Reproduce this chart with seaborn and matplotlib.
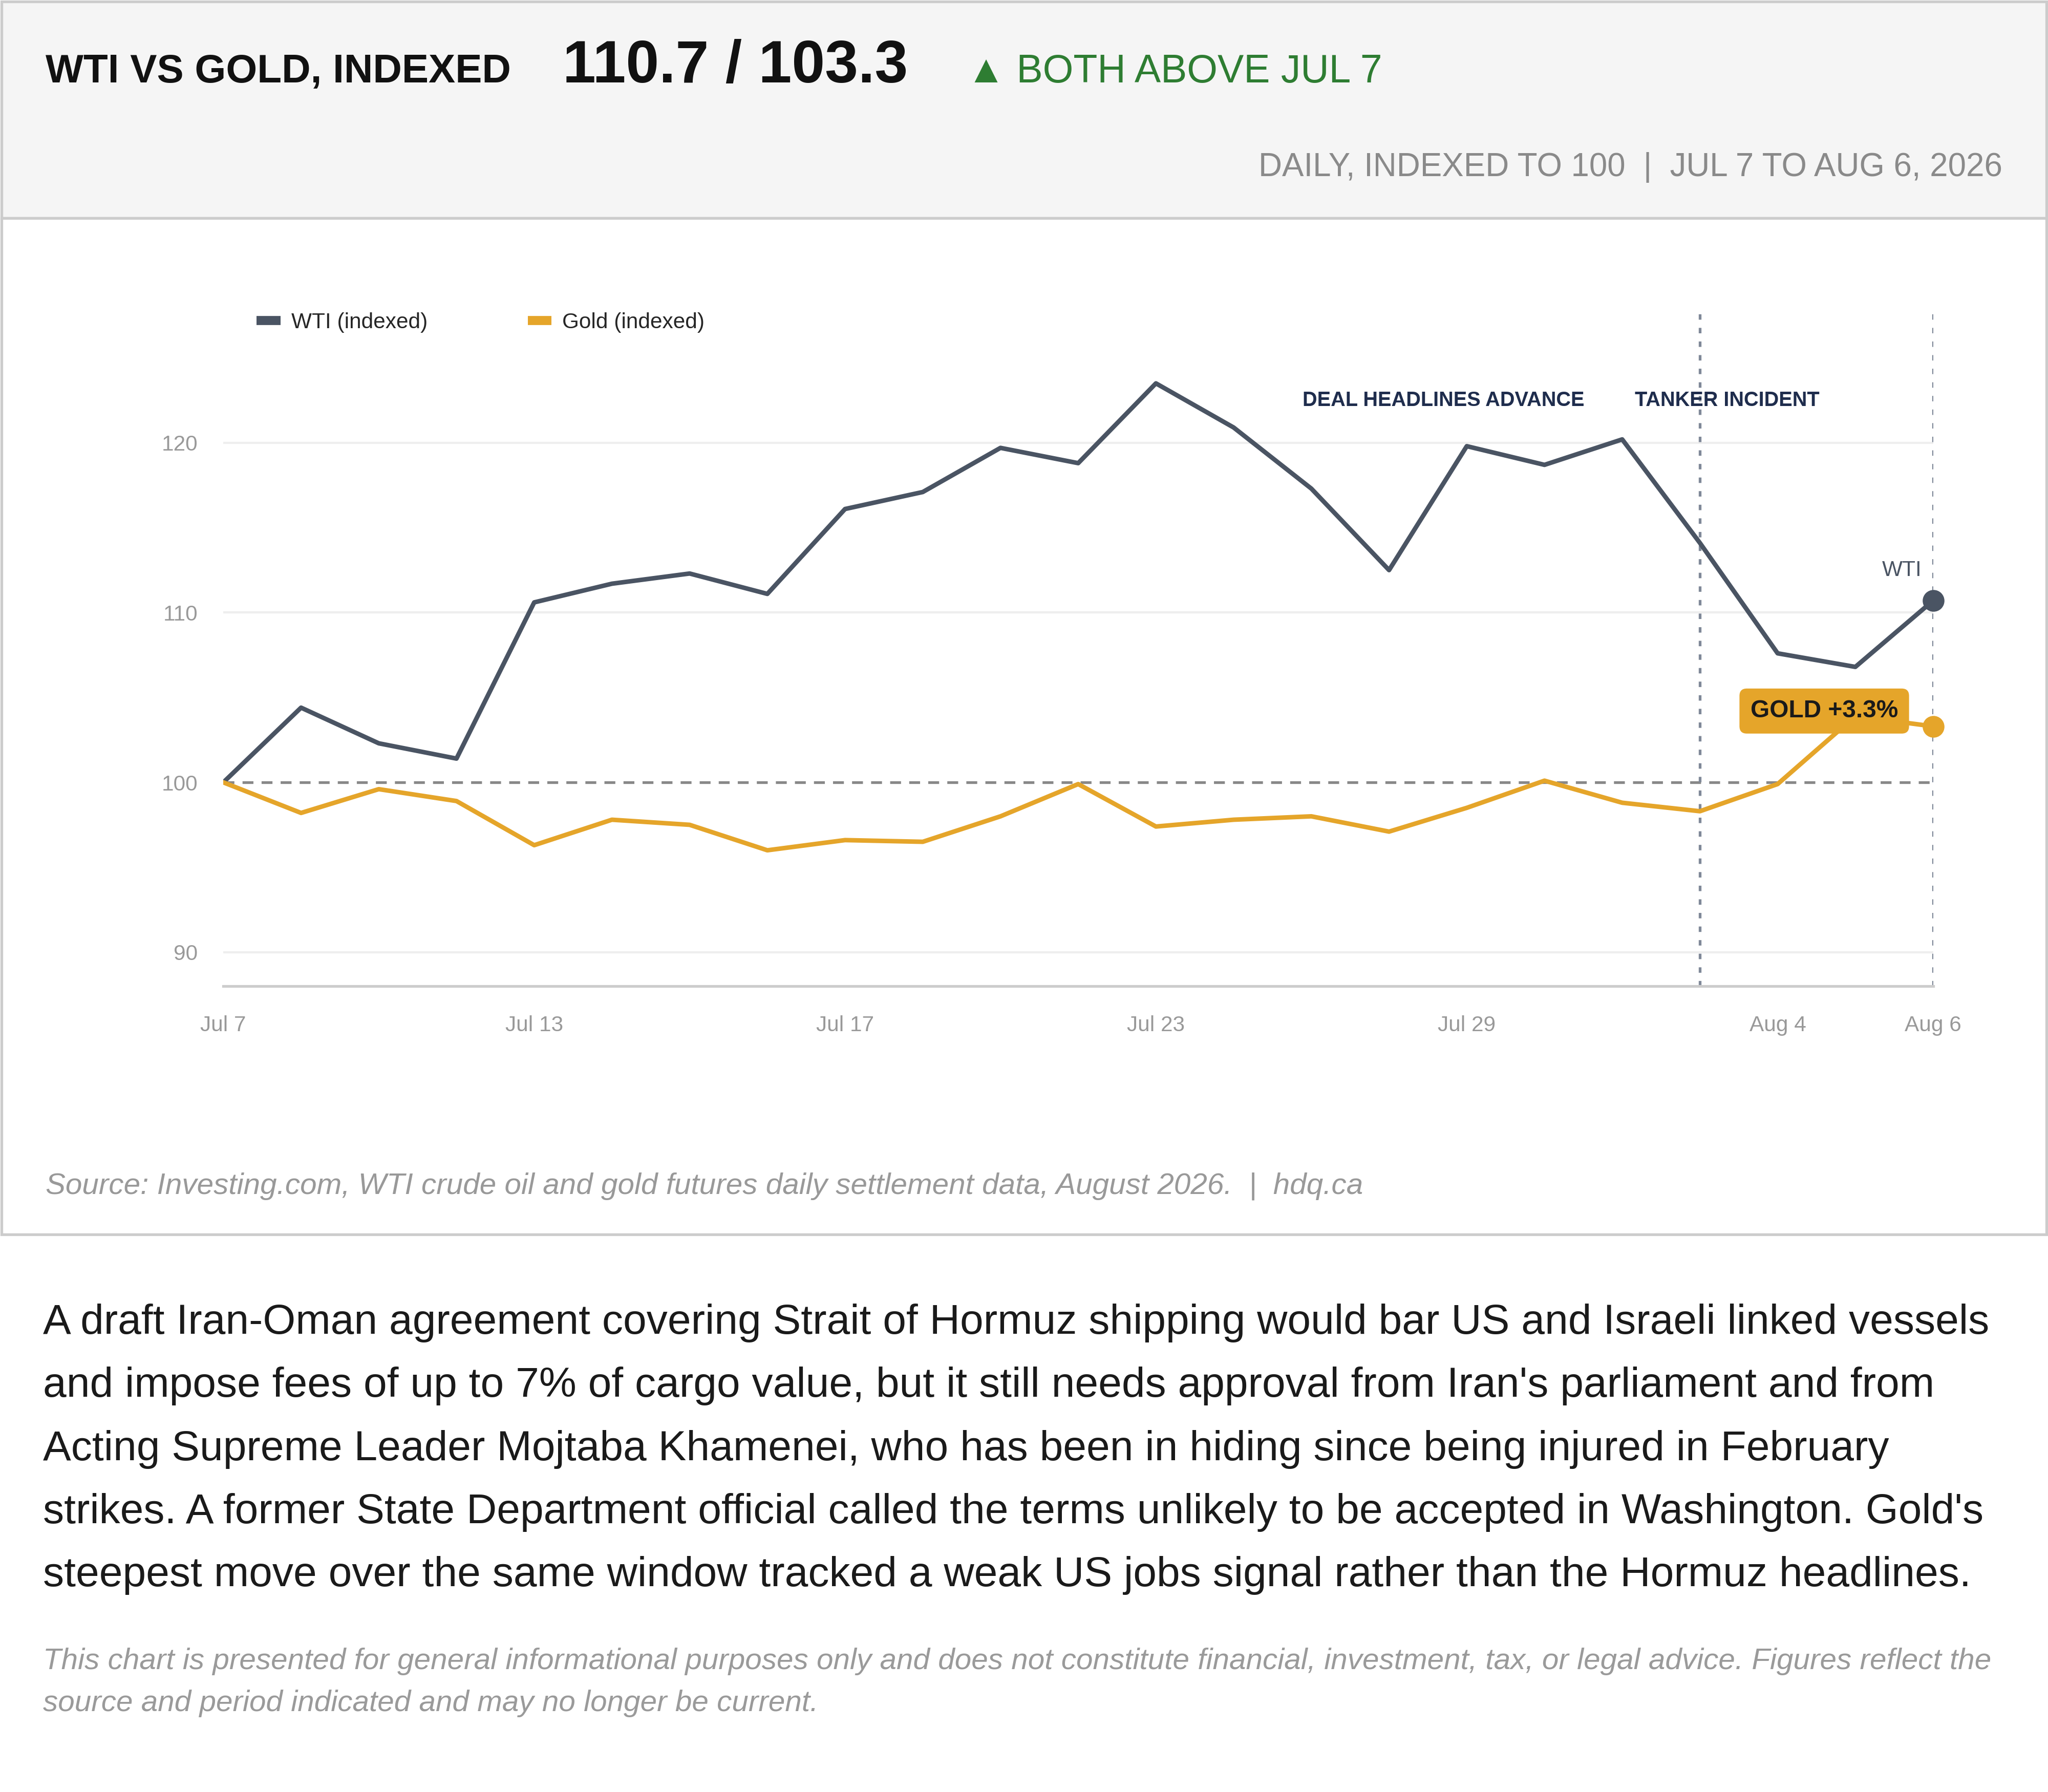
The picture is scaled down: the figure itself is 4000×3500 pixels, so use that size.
import matplotlib
matplotlib.use("Agg")
import matplotlib.pyplot as plt
import seaborn as sns
import pandas as pd
from matplotlib.patches import Rectangle
from matplotlib.lines import Line2D

dates = ["Jul 7","Jul 8","Jul 9","Jul 10","Jul 13","Jul 14","Jul 15","Jul 16","Jul 17",
         "Jul 20","Jul 21","Jul 22","Jul 23","Jul 24","Jul 27","Jul 28","Jul 29","Jul 30",
         "Jul 31","Aug 3","Aug 4","Aug 5","Aug 6"]
wti = [100.0,104.4,102.3,101.4,110.6,111.7,112.3,111.1,116.1,117.1,119.7,118.8,123.5,
       120.9,117.3,112.5,119.8,118.7,120.2,114.1,107.6,106.8,110.7]
gold = [100.0,98.2,99.6,98.9,96.3,97.8,97.5,96.0,96.6,96.5,98.0,99.9,97.4,97.8,98.0,
        97.1,98.5,100.1,98.8,98.3,99.9,103.9,103.3]
tick_labels = ["Jul 7","Jul 13","Jul 17","Jul 23","Jul 29","Aug 4","Aug 6"]

WTI_C = "#4a5463"
GOLD_C = "#e5a52a"

sns.set_theme(style="white")
plt.rcParams['font.family'] = ['Liberation Sans', 'DejaVu Sans']

W, H = 1568, 1372
fig = plt.figure(figsize=(W/100, H/100), dpi=4000/(W/100))
PT = 0.72 * 1.04

def fx(x): return x / W
def fy(y): return 1 - y / H

fig.patches.append(Rectangle((fx(1), fy(167)), fx(1566), 166/H, transform=fig.transFigure,
                             facecolor="#f5f5f5", edgecolor="#cccccc", lw=1.5, zorder=-5))
fig.patches.append(Rectangle((fx(1), fy(945)), fx(1566), 778/H, transform=fig.transFigure,
                             facecolor="white", edgecolor="#cccccc", lw=1.5, zorder=-5))

fig.text(fx(35), fy(55), "WTI VS GOLD, INDEXED", fontsize=29.5*PT, fontweight="bold", color="#111111", va="center")
fig.text(fx(431), fy(51), "110.7 / 103.3", fontsize=44*PT, fontweight="bold", color="#111111", va="center")
fig.text(fx(740), fy(55), "▲ BOTH ABOVE JUL 7", fontsize=29*PT, color="#2e7d32", va="center")
fig.text(fx(1533), fy(128), "DAILY, INDEXED TO 100  |  JUL 7 TO AUG 6, 2026", fontsize=24*PT,
         color="#8a8a8a", va="center", ha="right")

ax = fig.add_axes([fx(171), fy(755), (1480-171)/W, 520/H], zorder=2)
df = pd.DataFrame({"x": list(range(len(dates))) * 2,
                   "value": wti + gold,
                   "series": ["WTI (indexed)"] * len(dates) + ["Gold (indexed)"] * len(dates)})
sns.lineplot(data=df, x="x", y="value", hue="series",
             palette={"WTI (indexed)": WTI_C, "Gold (indexed)": GOLD_C},
             lw=2.5, ax=ax, legend=False, zorder=3)
ax.set_xlim(0, len(dates)-1)
ax.set_ylim(88, 128)
for v in [90, 110, 120]:
    ax.axhline(v, color="#eeeeee", lw=1.2, zorder=0)
ax.axhline(100, color="#888888", lw=1.5, ls=(0, (4, 3)), zorder=1)
for i in [19, 22]:
    ax.axvline(i, color="#7f8898", lw=1.5, ls=(0, (2, 3)), zorder=1)
ax.plot([22], [wti[-1]], "o", color=WTI_C, ms=11, zorder=5, clip_on=False)
ax.plot([22], [gold[-1]], "o", color=GOLD_C, ms=11, zorder=5, clip_on=False)

ax.set_yticks([90, 100, 110, 120])
ax.set_yticklabels(["90", "100", "110", "120"])
ax.set_xticks([dates.index(t) for t in tick_labels])
ax.set_xticklabels(tick_labels)
ax.tick_params(axis="both", labelsize=16*PT, colors="#999999", length=0, pad=14)
ax.tick_params(axis="x", pad=16)
ax.set_xlabel(""); ax.set_ylabel("")
for s in ["top", "right", "left"]:
    ax.spines[s].set_visible(False)
ax.spines["bottom"].set_color("#cccccc")
ax.spines["bottom"].set_linewidth(1.5)
ax.set_facecolor("none")

ax.text(15.7, 122.5, "DEAL HEADLINES ADVANCE", ha="center", va="center", fontsize=15*PT,
        fontweight="bold", color="#1f2d4d")
ax.text(19.35, 122.5, "TANKER INCIDENT", ha="center", va="center", fontsize=15*PT,
        fontweight="bold", color="#1f2d4d")
ax.text(21.6, 112.5, "WTI", ha="center", va="center", fontsize=16*PT, color=WTI_C)
ax.text(20.6, 104.2, "GOLD +3.3%", ha="center", va="center", fontsize=18*PT, fontweight="bold",
        color="#1a1a1a", zorder=6,
        bbox=dict(boxstyle="round,pad=0.45,rounding_size=0.3", fc=GOLD_C, ec="none"))

handles = [Line2D([], [], color=WTI_C, lw=5, solid_capstyle="butt"),
           Line2D([], [], color=GOLD_C, lw=5, solid_capstyle="butt")]
ax.legend(handles, ["WTI (indexed)", "Gold (indexed)"], loc="center left",
          bbox_to_anchor=(0.008, 0.977), ncol=2, frameon=False, fontsize=16*PT,
          handlelength=1.1, handletextpad=0.5, columnspacing=4.6)

fig.text(fx(35), fy(908), "Source: Investing.com, WTI crude oil and gold futures daily settlement data, August 2026.  |  hdq.ca",
         fontsize=22*PT, style="italic", color="#999999", va="center")

body = ["A draft Iran-Oman agreement covering Strait of Hormuz shipping would bar US and Israeli linked vessels",
        "and impose fees of up to 7% of cargo value, but it still needs approval from Iran's parliament and from",
        "Acting Supreme Leader Mojtaba Khamenei, who has been in hiding since being injured in February",
        "strikes. A former State Department official called the terms unlikely to be accepted in Washington. Gold's",
        "steepest move over the same window tracked a weak US jobs signal rather than the Hormuz headlines."]
for k, line in enumerate(body):
    fig.text(fx(33), fy(1013 + 48.3*k), line, fontsize=31*PT, color="#1a1a1a", va="center")

disc = ["This chart is presented for general informational purposes only and does not constitute financial, investment, tax, or legal advice. Figures reflect the",
        "source and period indicated and may no longer be current."]
for k, line in enumerate(disc):
    fig.text(fx(33), fy(1272 + 32*k), line, fontsize=22*PT, style="italic", color="#9a9a9a", va="center")

fig.savefig("out.png")
